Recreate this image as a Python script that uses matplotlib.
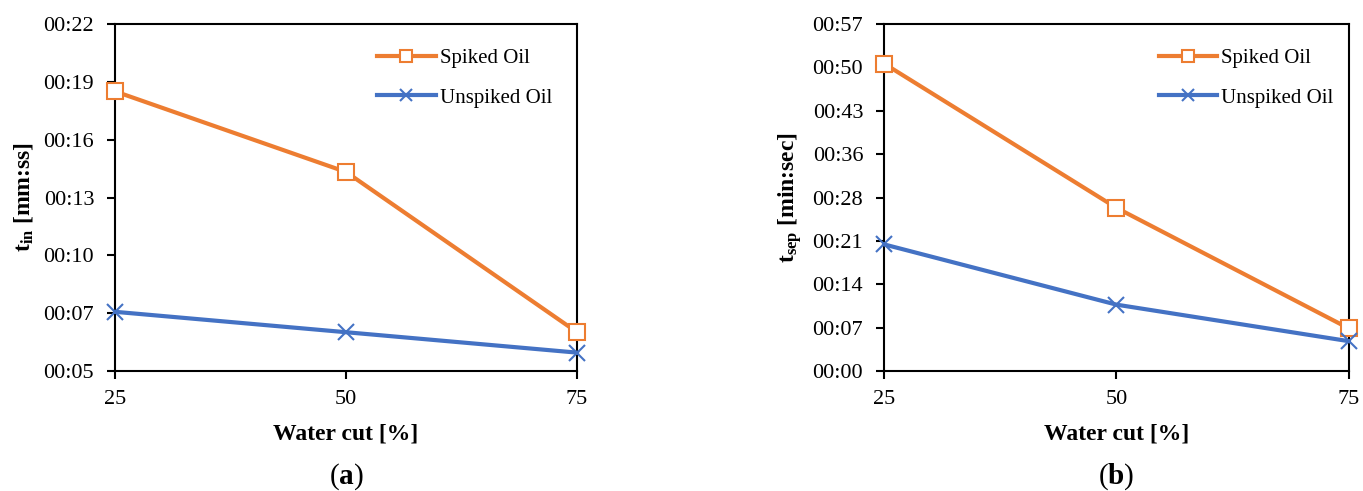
import matplotlib.pyplot as plt
import numpy as np

plt.rcParams['font.family'] = ['Liberation Serif', 'DejaVu Serif']
plt.rcParams['mathtext.fontset'] = 'custom'
plt.rcParams['mathtext.rm'] = 'Liberation Serif'
plt.rcParams['mathtext.it'] = 'Liberation Serif:italic'
plt.rcParams['mathtext.bf'] = 'Liberation Serif:bold'

water_cut = [25, 50, 75]

# panel (a): t_in in seconds
tin_spiked = [18.7, 14.75, 6.9]
tin_unspiked = [7.9, 6.9, 5.9]
tin_ticklabels = ["00:05", "00:07", "00:10", "00:13", "00:16", "00:19", "00:22"]

# panel (b): t_sep in seconds
tsep_spiked = [50.5, 26.8, 7.0]
tsep_unspiked = [20.8, 10.9, 4.9]
tsep_ticklabels = ["00:00", "00:07", "00:14", "00:21", "00:28", "00:36", "00:43", "00:50", "00:57"]

orange = "#ED7D31"
blue = "#4472C4"


def draw(ax, spiked, unspiked, ymin, ymax, ticklabels, ylabel, tag, legend_x):
    ax.plot(water_cut, spiked, color=orange, lw=3, marker="s", ms=11,
            mfc="white", mec=orange, mew=1.5, clip_on=False, label="Spiked Oil", zorder=3)
    ax.plot(water_cut, unspiked, color=blue, lw=3, marker="x", ms=11,
            mec=blue, mew=1.5, clip_on=False, label="Unspiked Oil", zorder=3)
    ax.set_xlim(25, 75)
    ax.set_xticks(water_cut)
    ax.set_ylim(ymin, ymax)
    ax.set_yticks(np.linspace(ymin, ymax, len(ticklabels)))
    ax.set_yticklabels(ticklabels)
    ax.tick_params(direction="out", length=6, width=1.5, labelsize=16, pad=9)
    ax.tick_params(axis="x", pad=8)
    for s in ax.spines.values():
        s.set_linewidth(1.5)
    ax.set_xlabel("Water cut [%]", fontsize=17, fontweight="bold", labelpad=10)
    ax.set_ylabel(ylabel, fontsize=17, fontweight="bold", labelpad=6)
    ax.legend(loc="upper left", bbox_to_anchor=(legend_x, 0.983), frameon=False,
              fontsize=15, handlelength=2.8, handletextpad=0.2, labelspacing=0.95,
              markerscale=0.85)
    ax.text(0.5, -0.305, tag, transform=ax.transAxes, ha="center", va="center",
            fontsize=21)


fig = plt.figure(figsize=(13.63, 4.91), dpi=100)
ax1 = fig.add_axes([0.0844, 0.2444, 0.339, 0.7067])
ax2 = fig.add_axes([0.6486, 0.2444, 0.341, 0.7067])

draw(ax1, tin_spiked, tin_unspiked, 5, 22, tin_ticklabels,
     r"$\mathbf{t_{in}}$ [mm:ss]", r"($\mathbf{a}$)", 0.527)
draw(ax2, tsep_spiked, tsep_unspiked, 0, 57, tsep_ticklabels,
     r"$\mathbf{t_{sep}}$ [min:sec]", r"($\mathbf{b}$)", 0.551)

fig.savefig("out.png", dpi=100)
